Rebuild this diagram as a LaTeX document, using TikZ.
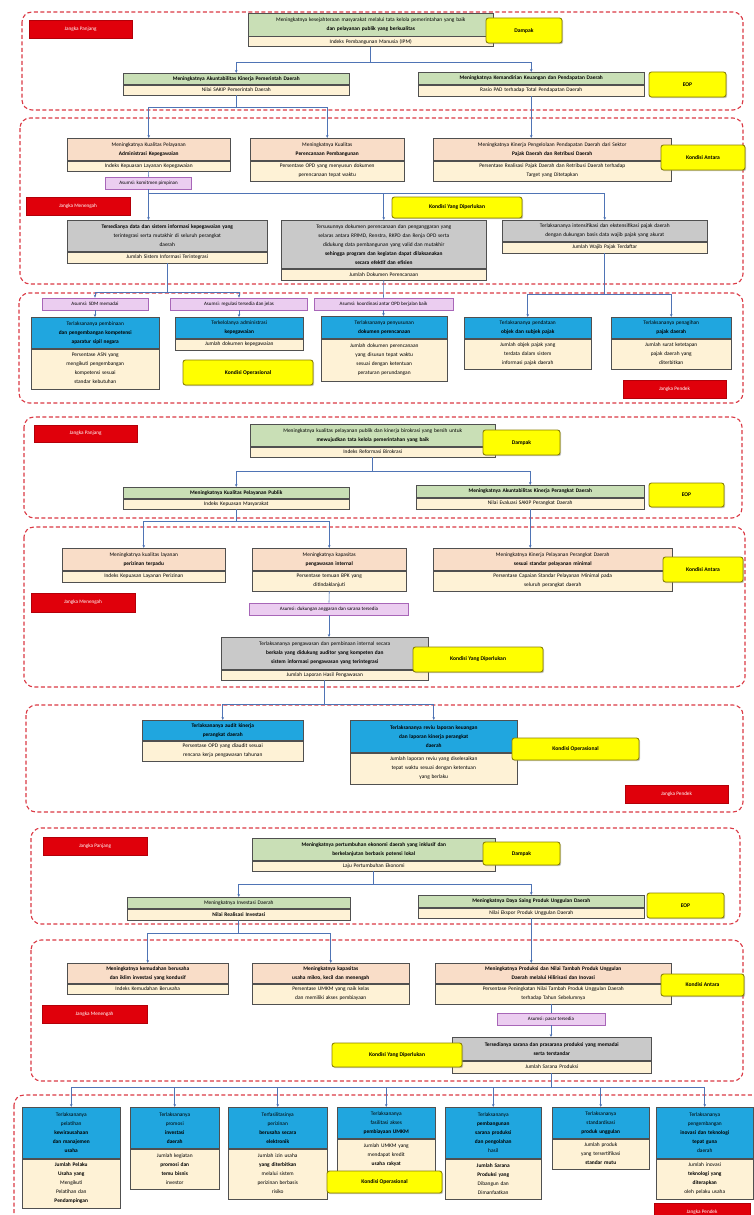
\documentclass[tikz,border=0pt]{standalone}
\usepackage{fontspec}
\setmainfont{Carlito}
\usetikzlibrary{arrows.meta,calc,shadows}
\definecolor{hgreen}{HTML}{C9DFB6}
\definecolor{cream}{HTML}{FEF2D6}
\definecolor{hpeach}{HTML}{F9DDC8}
\definecolor{hgray}{HTML}{C9C9C9}
\definecolor{hblue}{HTML}{20A6DF}
\definecolor{ylab}{HTML}{FFFF00}
\definecolor{ylabline}{HTML}{8C8200}
\definecolor{rlab}{HTML}{E0000B}
\definecolor{plab}{HTML}{EBCDF0}
\definecolor{plabline}{HTML}{A866B8}
\definecolor{framec}{HTML}{DB3A45}
\definecolor{connc}{HTML}{4F74B5}
\definecolor{boxline}{HTML}{505050}
\tikzset{
 part/.style={draw=boxline, line width=0.5pt, inner xsep=2pt, inner ysep=1.5pt, align=center, font=\fontsize{5.4}{9}\selectfont},
 hg/.style={fill=hgreen}, hp/.style={fill=hpeach}, hy/.style={fill=hgray}, hb/.style={fill=hblue},
 frame/.style={draw=framec, line width=1.1pt, dash pattern=on 4pt off 2.5pt, rounded corners=10pt},
 conn/.style={draw=connc, line width=0.6pt},
 arr/.style={conn, -{Stealth[length=3pt,width=2.6pt]}},
 yellowtag/.style={fill=ylab, draw=ylabline, line width=0.9pt, rounded corners=2.5pt, font=\bfseries\fontsize{5.6}{6}\selectfont, drop shadow={opacity=0.45,shadow xshift=1.2pt,shadow yshift=-1.2pt}, inner sep=0pt},
 redtag/.style={fill=rlab, text=white, font=\fontsize{5.2}{6}\selectfont, inner sep=0pt, draw=rlab!80!black, line width=0.3pt},
 pinktag/.style={fill=plab, draw=plabline, line width=0.6pt, font=\fontsize{5}{6}\selectfont, inner sep=0pt},
}
% name, x, y, text width, header style, header height, header text, body height, body text
\newcommand\twobox[9]{%
 \node[part,#5,anchor=north west,text width=#4pt,minimum height=#6pt] (#1) at (#2,#3) {#7};
 \node[part,fill=cream,anchor=north west,text width=#4pt,minimum height=#8pt] (#1b) at (#1.south west) {#9};}
\begin{document}
\begin{tikzpicture}[x=1pt,y=-1pt]
\useasboundingbox (0,0) rectangle (753,1215);
\fill[white] (0,0) rectangle (753,1215);
% ================= frames =================
\draw[frame] (22,12) rectangle (743,110);
\draw[frame] (20,118) rectangle (743,284);
\draw[frame] (19,293) rectangle (743,403);
\draw[frame] (24,417) rectangle (742,518);
\draw[frame] (24,527) rectangle (745,687);
\draw[frame] (26,705) rectangle (743,812);
\draw[frame] (31,828) rectangle (740,924);
\draw[frame] (31,940) rectangle (743,1081);
\draw[frame] (14,1095) rectangle (768,1235);

% ================= group 1 =================
\twobox{g1t}{248}{13}{241}{hg}{23}{Meningkatnya kesejahteraan masyarakat melalui tata kelola pemerintahan yang baik\\ \textbf{dan pelayanan publik yang berkualitas}}{10}{Indeks Pembangunan Manusia (IPM)}
\twobox{g1e1}{123}{73}{222}{hg}{11}{\textbf{Meningkatnya Akuntabilitas Kinerja Pemerintah Daerah}}{10}{Nilai SAKIP Pemerintah Daerah}
\twobox{g1e2}{418}{72}{222}{hg}{12}{\textbf{Meningkatnya Kemandirian Keuangan dan Pendapatan Daerah}}{11}{Rasio PAD terhadap Total Pendapatan Daerah}
\twobox{g1b1}{67}{138}{159}{hp}{22}{Meningkatnya Kualitas Pelayanan\\ \textbf{Administrasi Kepegawaian}}{10}{Indeks Kepuasan Layanan Kepegawaian}
\twobox{g1b2}{250}{138}{150}{hp}{22}{Meningkatnya Kualitas\\ \textbf{Perencanaan Pembangunan}}{20}{Persentase OPD yang menyusun dokumen\\ perencanaan tepat waktu}
\twobox{g1b3}{433}{138}{234}{hp}{22}{Meningkatnya Kinerja Pengelolaan Pendapatan Daerah dari Sektor\\ \textbf{Pajak Daerah dan Retribusi Daerah}}{20}{Persentase Realisasi Pajak Daerah dan Retribusi Daerah terhadap\\ Target yang Ditetapkan}
\twobox{g1c1}{67}{220}{196}{hy}{31}{\textbf{Tersedianya data dan sistem informasi kepegawaian yang}\\ terintegrasi serta mutakhir di seluruh perangkat\\ daerah}{11}{Jumlah Sistem Informasi Terintegrasi}
\twobox{g1c2}{281}{220}{201}{hy}{48}{Tersusunnya dokumen perencanaan dan penganggaran yang\\ selaras antara RPJMD, Renstra, RKPD dan Renja OPD serta\\ didukung data pembangunan yang valid dan mutakhir\\ \textbf{sehingga program dan kegiatan dapat dilaksanakan}\\ \textbf{secara efektif dan efisien}}{11}{Jumlah Dokumen Perencanaan}
\twobox{g1c3}{502}{220}{201}{hy}{21}{Terlaksananya intensifikasi dan ekstensifikasi pajak daerah\\ dengan dukungan basis data wajib pajak yang akurat}{11}{Jumlah Wajib Pajak Terdaftar}
\twobox{g1d1}{31}{317}{124}{hb}{31}{Terlaksananya pembinaan\\ \textbf{dan pengembangan kompetensi}\\ \textbf{aparatur sipil negara}}{40}{Persentase ASN yang\\ mengikuti pengembangan\\ kompetensi sesuai\\ standar kebutuhan}
\twobox{g1d2}{175}{317}{124}{hb}{21}{Terkelolanya administrasi\\ \textbf{kepegawaian}}{11}{Jumlah dokumen kepegawaian}
\twobox{g1d3}{321}{316}{122}{hb}{22}{Terlaksananya penyusunan\\ \textbf{dokumen perencanaan}}{42}{Jumlah dokumen perencanaan\\ yang disusun tepat waktu\\ sesuai dengan ketentuan\\ peraturan perundangan}
\twobox{g1d4}{464}{317}{123}{hb}{21}{Terlaksananya pendataan\\ \textbf{objek dan subjek pajak}}{30}{Jumlah objek pajak yang\\ terdata dalam sistem\\ informasi pajak daerah}
\twobox{g1d5}{611}{317}{116}{hb}{21}{Terlaksananya penagihan\\ \textbf{pajak daerah}}{30}{Jumlah surat ketetapan\\ pajak daerah yang\\ diterbitkan}
\node[pinktag, minimum width=86pt, minimum height=12pt] (g1p1) at (148.5,183) {Asumsi: komitmen pimpinan};
\node[pinktag, minimum width=106pt, minimum height=12pt] (g1p2) at (95,304) {Asumsi: SDM memadai};
\node[pinktag, minimum width=137pt, minimum height=12pt] (g1p3) at (239,304) {Asumsi: regulasi tersedia dan jelas};
\node[pinktag, minimum width=139pt, minimum height=12pt] (g1p4) at (383.5,304) {Asumsi: koordinasi antar OPD berjalan baik};
% connectors group 1
\coordinate (g1j1) at ($(g1tb.south)+(0,15)$);
\draw[conn] (g1tb.south) -- (g1j1);
\draw[arr] (g1j1) -| (g1e1.north);
\draw[arr] (g1j1) -| (g1e2.north);
\coordinate (g1j2) at ($(g1e1b.south)+(0,12)$);
\draw[conn] (g1e1b.south) -- (g1j2);
\draw[arr] (g1j2) -| (g1b1.north);
\draw[arr] (g1j2) -| (g1b2.north);
\draw[arr] (g1e2b.south) -- (g1e2b.south |- g1b3.north);
\draw[conn] (g1b1b.south) -- (g1p1.north);
\draw[arr] (g1p1.south) -- (g1p1.south |- g1c1.north);
\coordinate (g1j3) at ($(g1p1.south)+(0,4)$);
\draw[arr] (g1j3) -| (g1c2.north);
\draw[arr] (g1j3) -| (g1c3.north);
\coordinate (g1j4) at ($(g1c1b.south)+(0,29)$);
\draw[conn] (g1c1b.south) -- (g1j4);
\draw[arr] (g1j4) -| (g1p2.north);
\draw[arr] (g1j4) -| (g1p3.north);
\draw[arr] (g1p2.south) -- (g1p2.south |- g1d1.north);
\draw[arr] (g1p3.south) -- (g1p3.south |- g1d2.north);
\draw[conn] (g1c2b.south) -- (g1p4.north);
\draw[arr] (g1p4.south) -- (g1p4.south |- g1d3.north);
\coordinate (g1j5) at ($(g1c3b.south)+(0,41)$);
\draw[conn] (g1c3b.south) -- (g1j5);
\draw[arr] (g1j5) -| (g1d4.north);
\draw[arr] (g1j5) -| (g1d5.north);
% tags group 1
\node[redtag, minimum width=103pt, minimum height=18pt] (g1red1) at (80.5,29) {Jangka Panjang};
\node[redtag, minimum width=104pt, minimum height=18pt] (g1red2) at (78,206) {Jangka Menengah};
\node[redtag, minimum width=103pt, minimum height=18pt] (g1red3) at (674.5,389) {Jangka Pendek};
\node[yellowtag, minimum width=76pt, minimum height=25pt] (g1y1) at (524,30.5) {Dampak};
\node[yellowtag, minimum width=77pt, minimum height=25pt] (g1y2) at (687.5,84.5) {EOP};
\node[yellowtag, minimum width=84pt, minimum height=25pt] (g1y3) at (703,157.5) {Kondisi Antara};
\node[yellowtag, minimum width=130pt, minimum height=21pt] (g1y4) at (457,207.5) {Kondisi Yang Diperlukan};
\node[yellowtag, minimum width=130pt, minimum height=25pt] (g1y5) at (248,372.5) {Kondisi Operasional};

% ================= group 2 =================
\twobox{g2t}{250}{424}{241}{hg}{22}{Meningkatnya kualitas pelayanan publik dan kinerja birokrasi yang bersih untuk\\ \textbf{mewujudkan tata kelola pemerintahan yang baik}}{10}{Indeks Reformasi Birokrasi}
\twobox{g2e1}{123}{487}{222}{hg}{11}{\textbf{Meningkatnya Kualitas Pelayanan Publik}}{10}{Indeks Kepuasan Masyarakat}
\twobox{g2e2}{416}{485}{224}{hg}{12}{\textbf{Meningkatnya Akuntabilitas Kinerja Perangkat Daerah}}{11}{Nilai Evaluasi SAKIP Perangkat Daerah}
\twobox{g2b1}{62}{548}{159}{hp}{22}{Meningkatnya kualitas layanan\\ \textbf{perizinan terpadu}}{11}{Indeks Kepuasan Layanan Perizinan}
\twobox{g2b2}{252}{548}{150}{hp}{22}{Meningkatnya kapasitas\\ \textbf{pengawasan internal}}{20}{Persentase temuan BPK yang\\ ditindaklanjuti}
\twobox{g2b3}{433}{548}{235}{hp}{22}{Meningkatnya Kinerja Pelayanan Perangkat Daerah\\ \textbf{sesuai standar pelayanan minimal}}{20}{Persentase Capaian Standar Pelayanan Minimal pada\\ seluruh perangkat daerah}
\twobox{g2c}{221}{637}{203}{hy}{32}{Terlaksananya pengawasan dan pembinaan internal secara\\ \textbf{berkala yang didukung auditor yang kompeten dan}\\ \textbf{sistem informasi pengawasan yang terintegrasi}}{10}{Jumlah Laporan Hasil Pengawasan}
\twobox{g2d1}{142}{720}{157}{hb}{20}{\textbf{Terlaksananya audit kinerja}\\ \textbf{perangkat daerah}}{20}{Persentase OPD yang diaudit sesuai\\ rencana kerja pengawasan tahunan}
\twobox{g2d2}{350}{720}{163}{hb}{32}{\textbf{Terlaksananya reviu laporan keuangan}\\ \textbf{dan laporan kinerja perangkat}\\ \textbf{daerah}}{31}{Jumlah laporan reviu yang diselesaikan\\ tepat waktu sesuai dengan ketentuan\\ yang berlaku}
\node[pinktag, minimum width=159pt, minimum height=12pt] (g2p1) at (329,609) {Asumsi: dukungan anggaran dan sarana tersedia};
% connectors group 2
\coordinate (g2j1) at ($(g2tb.south)+(0,14)$);
\draw[conn] (g2tb.south) -- (g2j1);
\draw[arr] (g2j1) -| (g2e1.north);
\draw[arr] (g2j1) -| (g2e2.north);
\coordinate (g2j2) at ($(g2e1b.south)+(0,12)$);
\draw[conn] (g2e1b.south) -- (g2j2);
\draw[arr] (g2j2) -| (g2b1.north);
\draw[arr] (g2j2) -| (g2b2.north);
\draw[arr] (g2e2b.south) -- (g2e2b.south |- g2b3.north);
\draw[conn] (g2b2b.south) -- (g2p1.north);
\draw[arr] (g2p1.south) -- (g2p1.south |- g2c.north);
\coordinate (g2j3) at ($(g2cb.south)+(0,24)$);
\draw[conn] (g2cb.south) -- (g2j3);
\draw[arr] (g2j3) -| (g2d1.north);
\draw[arr] (g2j3) -| (g2d2.north);
% tags group 2
\node[redtag, minimum width=103pt, minimum height=17pt] (g2red1) at (85.5,433.5) {Jangka Panjang};
\node[redtag, minimum width=104pt, minimum height=19pt] (g2red2) at (83,602.5) {Jangka Menengah};
\node[redtag, minimum width=103pt, minimum height=18pt] (g2red3) at (676.5,794) {Jangka Pendek};
\node[yellowtag, minimum width=77pt, minimum height=25pt] (g2y1) at (521.5,442.5) {Dampak};
\node[yellowtag, minimum width=75pt, minimum height=24pt] (g2y2) at (686.5,495) {EOP};
\node[yellowtag, minimum width=80pt, minimum height=25pt] (g2y3) at (703,569.5) {Kondisi Antara};
\node[yellowtag, minimum width=130pt, minimum height=25pt] (g2y4) at (478,659.5) {Kondisi Yang Diperlukan};
\node[yellowtag, minimum width=127pt, minimum height=22pt] (g2y5) at (575.5,749) {Kondisi Operasional};

% ================= group 3 =================
\twobox{g3t}{252}{838}{239}{hg}{22}{\textbf{Meningkatnya pertumbuhan ekonomi daerah yang inklusif dan}\\ \textbf{berkelanjutan berbasis potensi lokal}}{10}{Laju Pertumbuhan Ekonomi}
\twobox{g3e1}{127}{897}{219}{hg}{11}{Meningkatnya Investasi Daerah}{11}{\textbf{Nilai Realisasi Investasi}}
\twobox{g3e2}{418}{895}{222}{hg}{12}{\textbf{Meningkatnya Daya Saing Produk Unggulan Daerah}}{10}{Nilai Ekspor Produk Unggulan Daerah}
\twobox{g3b1}{67}{963}{157}{hp}{20}{\textbf{Meningkatnya kemudahan berusaha}\\ \textbf{dan iklim investasi yang kondusif}}{10}{Indeks Kemudahan Berusaha}
\twobox{g3b2}{252}{963}{153}{hp}{20}{\textbf{Meningkatnya kapasitas}\\ \textbf{usaha mikro, kecil dan menengah}}{20}{Persentase UMKM yang naik kelas\\ dan memiliki akses pembiayaan}
\twobox{g3b3}{435}{963}{232}{hp}{20}{\textbf{Meningkatnya Produksi dan Nilai Tambah Produk Unggulan}\\ \textbf{Daerah melalui Hilirisasi dan Inovasi}}{20}{Persentase Peningkatan Nilai Tambah Produk Unggulan Daerah\\ terhadap Tahun Sebelumnya}
\twobox{g3c}{452}{1037}{195}{hy}{23}{\textbf{Tersedianya sarana dan prasarana produksi yang memadai}\\ \textbf{serta terstandar}}{12}{Jumlah Sarana Produksi}
\twobox{g3d1}{22}{1107}{94}{hb}{51}{Terlaksananya\\ pelatihan\\ \textbf{kewirausahaan}\\ \textbf{dan manajemen}\\ \textbf{usaha}}{49}{\textbf{Jumlah Pelaku}\\ \textbf{Usaha yang}\\ Mengikuti\\ Pelatihan dan\\ \textbf{Pendampingan}}
\twobox{g3d2}{130}{1107}{85}{hb}{41}{Terlaksananya\\ promosi\\ \textbf{investasi}\\ \textbf{daerah}}{40}{Jumlah kegiatan\\ \textbf{promosi dan}\\ \textbf{temu bisnis}\\ investor}
\twobox{g3d3}{228}{1107}{95}{hb}{41}{Terfasilitasinya\\ perizinan\\ \textbf{berusaha secara}\\ \textbf{elektronik}}{50}{Jumlah izin usaha\\ \textbf{yang diterbitkan}\\ melalui sistem\\ perizinan berbasis\\ risiko}
\twobox{g3d4}{337}{1107}{94}{hb}{31}{Terlaksananya\\ fasilitasi akses\\ \textbf{pembiayaan UMKM}}{32}{Jumlah UMKM yang\\ mendapat kredit\\ \textbf{usaha rakyat}}
\twobox{g3d5}{445}{1107}{92}{hb}{51}{Terlaksananya\\ \textbf{pembangunan}\\ \textbf{sarana produksi}\\ \textbf{dan pengolahan}\\ hasil}{40}{\textbf{Jumlah Sarana}\\ \textbf{Produksi yang}\\ Dibangun dan\\ Dimanfaatkan}
\twobox{g3d6}{552}{1107}{93}{hb}{31}{Terlaksananya\\ standardisasi\\ \textbf{produk unggulan}}{30}{Jumlah produk\\ yang tersertifikasi\\ \textbf{standar mutu}}
\twobox{g3d7}{656}{1107}{93}{hb}{51}{Terlaksananya\\ pengembangan\\ \textbf{inovasi dan teknologi}\\ \textbf{tepat guna}\\ daerah}{40}{Jumlah inovasi\\ \textbf{teknologi yang}\\ \textbf{diterapkan}\\ oleh pelaku usaha}
\node[pinktag, minimum width=108pt, minimum height=12pt] (g3p1) at (551,1019) {Asumsi: pasar tersedia};
% connectors group 3
\coordinate (g3j1) at ($(g3tb.south)+(0,13)$);
\draw[conn] (g3tb.south) -- (g3j1);
\draw[arr] (g3j1) -| (g3e1.north);
\draw[arr] (g3j1) -| (g3e2.north);
\coordinate (g3j2) at ($(g3e1b.south)+(0,13)$);
\draw[conn] (g3e1b.south) -- (g3j2);
\draw[arr] (g3j2) -| (g3b1.north);
\draw[arr] (g3j2) -| (g3b2.north);
\draw[arr] (g3e2b.south) -- (g3e2b.south |- g3b3.north);
\draw[conn] (g3b3b.south -| g3p1.north) -- (g3p1.north);
\draw[arr] (g3p1.south) -- (g3p1.south |- g3c.north);
\coordinate (g3j3) at ($(g3cb.south)+(0,14)$);
\draw[conn] (g3cb.south) -- (g3j3);
\foreach \k in {1,...,7} {\draw[arr] (g3j3) -| (g3d\k.north);}
% tags group 3
\node[redtag, minimum width=104pt, minimum height=18pt] (g3red1) at (95,846) {Jangka Panjang};
\node[redtag, minimum width=105pt, minimum height=18pt] (g3red2) at (94.5,1014) {Jangka Menengah};
\node[redtag, minimum width=96pt, minimum height=18pt] (g3red3) at (702,1212) {Jangka Pendek};
\node[yellowtag, minimum width=77pt, minimum height=23pt] (g3y1) at (521.5,853.5) {Dampak};
\node[yellowtag, minimum width=77pt, minimum height=25pt] (g3y2) at (685.5,905.5) {EOP};
\node[yellowtag, minimum width=83pt, minimum height=22pt] (g3y3) at (702.5,985) {Kondisi Antara};
\node[yellowtag, minimum width=130pt, minimum height=24pt] (g3y4) at (397,1055) {Kondisi Yang Diperlukan};
\node[yellowtag, minimum width=115pt, minimum height=22pt] (g3y5) at (384.5,1182) {Kondisi Operasional};
\end{tikzpicture}
\end{document}
